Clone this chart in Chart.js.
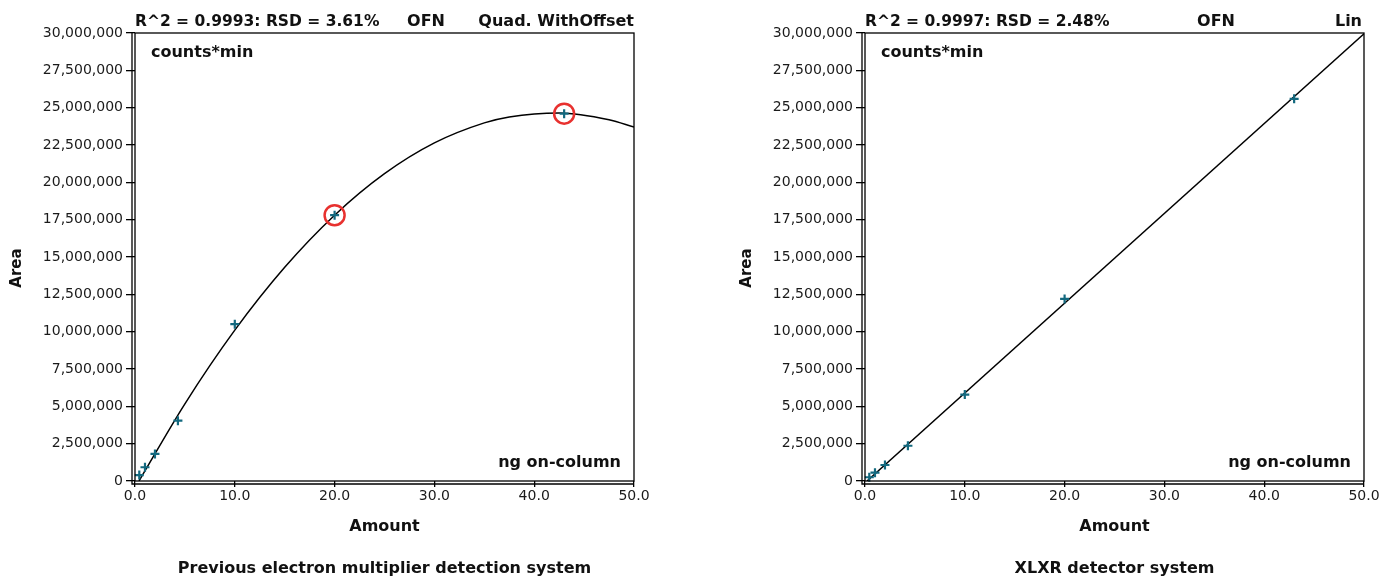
<!DOCTYPE html>
<html>
<head>
<meta charset="utf-8">
<script src="https://cdn.jsdelivr.net/npm/chart.js@4.4.0/dist/chart.umd.min.js"></script>
<style>
  body { margin: 0; background: #fff; }
  .wrap { position: absolute; top: 0; width: 691px; height: 578px; }
</style>
</head>
<body>
<div class="wrap" style="left:0"><canvas id="prevChart"></canvas></div>
<div class="wrap" style="left:691px"><canvas id="xlxrChart"></canvas></div>
<script>
// calibration standards (ng on-column)
const amounts = [0.43, 1.0, 2.0, 4.3, 10, 20, 43];

// previous electron multiplier system
const prevArea = [400000, 920000, 1810000, 4040000, 10500000, 17800000, 24600000];
const prevFlagged = [20, 43];
const prevFlaggedArea = [17800000, 24600000];
const prevFitX = [0.4, 5, 10, 15, 20, 25, 30, 35, 37.5, 42.5, 47.5, 50];
const prevFitY = [0, 5170000, 10100000, 14310000, 17800000, 20580000, 22640000, 23980000, 24380000, 24650000, 24190000, 23700000];

// XLXR detector system
const xlxrArea = [250000, 560000, 1070000, 2360000, 5790000, 12190000, 25590000];
const xlxrFitX = [0.2, 50];
const xlxrFitY = [0, 29950000];

const xTicks = [0, 10, 20, 30, 40, 50];
const yMax = 30000000;
const yStep = 2500000;

const FONT = '"DejaVu Sans", sans-serif';
const TEAL = '#13697f';
const RED = '#e8312f';

const zip = (xs, ys) => xs.map((x, i) => ({ x: x, y: ys[i] }));

// box + double axis lines + all annotation text
const decor = {
  id: 'decor',
  afterDraw(chart) {
    const o = chart.options.plugins.decor;
    const a = chart.chartArea;
    const ctx = chart.ctx;
    ctx.save();
    ctx.strokeStyle = '#000';
    ctx.lineWidth = 1.3;
    ctx.strokeRect(a.left, a.top, a.right - a.left, a.bottom - a.top);
    ctx.beginPath();
    ctx.moveTo(a.left - 3, a.top);
    ctx.lineTo(a.left - 3, a.bottom + 3);
    ctx.lineTo(a.right, a.bottom + 3);
    ctx.stroke();

    ctx.fillStyle = '#111';
    ctx.textBaseline = 'alphabetic';
    ctx.font = 'bold 15.5px ' + FONT;
    ctx.textAlign = 'left';
    ctx.fillText(o.stats, a.left, 26);
    ctx.font = 'bold 16px ' + FONT;
    ctx.textAlign = 'center';
    ctx.fillText('OFN', a.left + o.ofnDx, 26);
    ctx.textAlign = 'right';
    ctx.fillText(o.method, a.right - o.methodDx, 26);

    ctx.textAlign = 'left';
    ctx.fillText('counts*min', a.left + 16, 57);
    ctx.textAlign = 'right';
    ctx.fillText('ng on-column', a.right - 13, 467);

    const cx = (a.left + a.right) / 2;
    ctx.textAlign = 'center';
    ctx.fillText('Amount', cx, 531);
    ctx.fillText(o.caption, cx, 573);

    ctx.font = 'bold 15px ' + FONT;
    ctx.translate(a.left - 118, 268);
    ctx.rotate(-Math.PI / 2);
    ctx.textBaseline = 'middle';
    ctx.fillText('Area', 0, 0);
    ctx.restore();
  }
};

function makeChart(id, cfg) {
  const datasets = [
    {
      data: zip(cfg.fitX, cfg.fitY),
      showLine: true,
      borderColor: '#000',
      borderWidth: 1.5,
      pointRadius: 0,
      cubicInterpolationMode: 'monotone',
      order: 3
    },
    {
      data: zip(amounts, cfg.area),
      pointStyle: 'cross',
      pointRadius: 4.5,
      borderColor: TEAL,
      borderWidth: 2.2,
      clip: false,
      order: 2
    }
  ];
  if (cfg.flaggedX) {
    datasets.push({
      data: zip(cfg.flaggedX, cfg.flaggedY),
      pointStyle: 'circle',
      pointRadius: 10,
      borderColor: RED,
      borderWidth: 2.5,
      backgroundColor: 'rgba(0,0,0,0)',
      order: 1
    });
  }

  return new Chart(document.getElementById(id), {
    type: 'scatter',
    data: { datasets: datasets },
    plugins: [decor],
    options: {
      responsive: true,
      maintainAspectRatio: false,
      animation: false,
      events: [],
      layout: { padding: { top: 33, right: cfg.padRight, bottom: 0, left: 0 } },
      plugins: {
        legend: { display: false },
        tooltip: { enabled: false },
        decor: cfg.decor
      },
      scales: {
        x: {
          type: 'linear',
          min: 0,
          max: 50,
          afterBuildTicks: s => { s.ticks = xTicks.map(v => ({ value: v })); },
          ticks: {
            callback: v => v.toFixed(1),
            font: { family: FONT, size: 14 },
            color: '#1a1a1a',
            padding: 1,
            maxRotation: 0,
            autoSkip: false
          },
          grid: { drawOnChartArea: false, tickLength: 6, color: '#000', lineWidth: 1.3 },
          border: { display: false },
          afterFit: s => { s.height = 97; }
        },
        y: {
          type: 'linear',
          min: 0,
          max: yMax,
          ticks: {
            stepSize: yStep,
            callback: v => v.toLocaleString('en-US'),
            font: { family: FONT, size: 14 },
            color: '#1a1a1a',
            padding: 3,
            autoSkip: false
          },
          grid: { drawOnChartArea: false, tickLength: 9, color: '#000', lineWidth: 1.3 },
          border: { display: false },
          afterFit: s => { s.width = cfg.yWidth; }
        }
      }
    }
  });
}

makeChart('prevChart', {
  area: prevArea,
  fitX: prevFitX,
  fitY: prevFitY,
  flaggedX: prevFlagged,
  flaggedY: prevFlaggedArea,
  yWidth: 135,
  padRight: 57,
  decor: {
    stats: 'R^2 = 0.9993: RSD = 3.61%',
    method: 'Quad. WithOffset',
    methodDx: 0,
    ofnDx: 291,
    caption: 'Previous electron multiplier detection system'
  }
});

makeChart('xlxrChart', {
  area: xlxrArea,
  fitX: xlxrFitX,
  fitY: xlxrFitY,
  yWidth: 174,
  padRight: 18,
  decor: {
    stats: 'R^2 = 0.9997: RSD = 2.48%',
    method: 'Lin',
    methodDx: 2,
    ofnDx: 351,
    caption: 'XLXR detector system'
  }
});
</script>
</body>
</html>
